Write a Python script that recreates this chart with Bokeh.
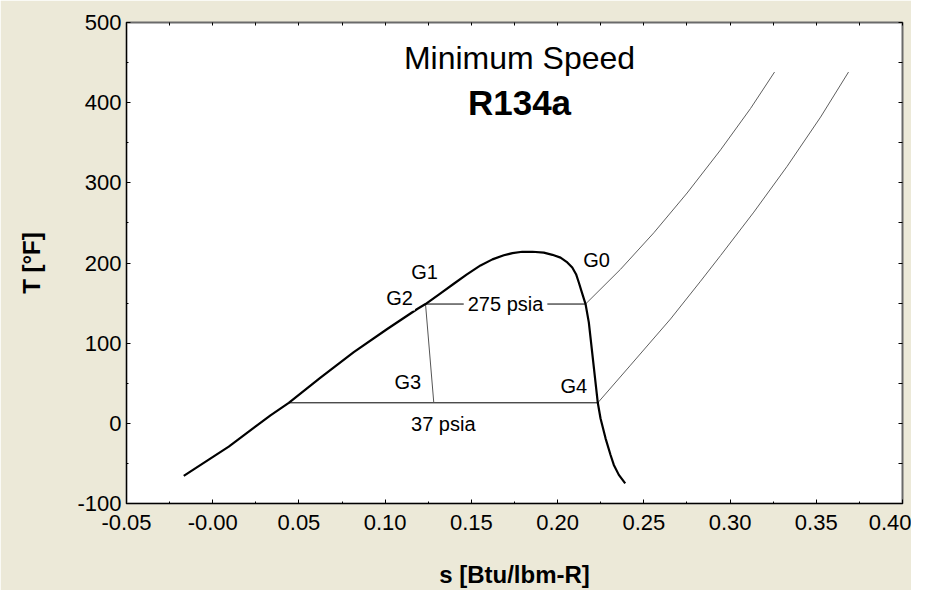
from bokeh.plotting import figure
from bokeh.models import (LinearAxis, SingleIntervalTicker, CustomJSTickFormatter,
                          Label, Range1d)
from bokeh.embed import file_html
from bokeh.resources import INLINE

# ---------------- data ----------------
# saturation dome of R134a, s [Btu/lbm-R], T [F]
s_dome = [-0.0168, 0.0093, 0.0335, 0.0441, 0.0625, 0.0818, 0.1012, 0.1186, 0.1234,
          0.1321, 0.1398, 0.1472, 0.1553, 0.1622, 0.1688, 0.1738, 0.1795, 0.1854,
          0.1920, 0.1970, 0.2017, 0.2052, 0.2085, 0.2107, 0.2123, 0.2142, 0.2162,
          0.2181, 0.2233, 0.2249, 0.2278, 0.2307, 0.2326, 0.2355, 0.2392]
T_dome = [-65.5, -29.0, 10.0, 25.6, 57.0, 88.8, 117.7, 142.6, 148.8,
          162.2, 174.1, 185.4, 197.0, 204.5, 209.6, 212.3, 214.0, 214.0,
          212.9, 210.2, 206.7, 201.5, 194.3, 186.0, 175.7, 162.4, 148.8,
          126.0, 25.6, 6.1, -18.7, -39.5, -51.9, -64.3, -75.0]

# superheated isobars
s_275 = [0.2162, 0.2365, 0.2558, 0.2751, 0.2945, 0.3119, 0.3258]
T_275 = [148.8, 192.2, 237.7, 287.3, 341.1, 392.8, 438.2]
s_37 = [0.2233, 0.2423, 0.2655, 0.2829, 0.2945, 0.3138, 0.3331, 0.3525, 0.3687]
T_37 = [25.6, 72.6, 130.2, 177.3, 209.3, 263.5, 320.6, 382.0, 438.2]

# state points
state_names = ["G0", "G1", "G2", "G3", "G4"]
s_state = [0.2162, 0.1234, 0.1234, 0.1282, 0.2233]
T_state = [148.8, 148.8, 148.8, 25.6, 25.6]

pressure_labels = ["275 psia", "37 psia"]
x_ticks_fmt_zero = "-0.00"

# ---------------- figure ----------------
BEIGE = "#ECE9D8"
FONT = "Liberation Sans"

p = figure(width=911, height=590, output_backend="svg", toolbar_location=None,
           x_range=Range1d(-0.05, 0.40), y_range=Range1d(-100, 500),
           min_border_left=126, min_border_right=9, min_border_top=22,
           min_border_bottom=84, x_axis_label="s [Btu/lbm-R]", y_axis_label="T [°F]")
p.background_fill_color = "white"
p.border_fill_color = BEIGE
p.outline_line_color = "#6A6A6A"
p.outline_line_width = 2
p.xgrid.visible = False
p.ygrid.visible = False

xax = p.xaxis[0]
xax.ticker = SingleIntervalTicker(interval=0.05, num_minor_ticks=2)
xax.formatter = CustomJSTickFormatter(
    args=dict(z=x_ticks_fmt_zero),
    code="if (Math.abs(tick) < 1e-9) { return z; } return tick.toFixed(2);")
yax = p.yaxis[0]
yax.ticker = SingleIntervalTicker(interval=100, num_minor_ticks=2)
yax.formatter = CustomJSTickFormatter(code="return tick.toFixed(0);")

for ax in (xax, yax):
    ax.axis_line_color = "black"
    ax.axis_line_width = 1
    ax.major_tick_in = 4
    ax.major_tick_out = 0
    ax.minor_tick_in = 2
    ax.minor_tick_out = 0
    ax.major_tick_line_color = "black"
    ax.minor_tick_line_color = "black"
    ax.major_label_text_font = FONT
    ax.major_label_text_font_size = "22px"
    ax.major_label_text_color = "black"
    ax.axis_label_text_font = FONT
    ax.axis_label_text_font_style = "bold"
    ax.axis_label_text_font_size = "24px"
    ax.axis_label_text_color = "black"

xax.major_label_standoff = 11
xax.axis_label_standoff = 28
yax.major_label_standoff = 5
yax.axis_label_standoff = 29

blank = CustomJSTickFormatter(code="return '';")
top = LinearAxis(ticker=SingleIntervalTicker(interval=0.025, num_minor_ticks=0),
                 formatter=blank, axis_line_color=None, major_tick_in=3,
                 major_tick_out=0, minor_tick_line_color=None,
                 major_label_text_font_size="0px", major_label_standoff=0,
                 major_tick_line_color="black")
right = LinearAxis(ticker=SingleIntervalTicker(interval=50, num_minor_ticks=0),
                   formatter=blank, axis_line_color=None, major_tick_in=4,
                   major_tick_out=0, minor_tick_line_color=None,
                   major_label_text_font_size="0px", major_label_standoff=0,
                   major_tick_line_color="black")
p.add_layout(top, "above")
p.add_layout(right, "right")

# ---------------- lines ----------------
p.line(s_275, T_275, line_color="#5E5E5E", line_width=1)
p.line(s_37, T_37, line_color="#5E5E5E", line_width=1)
# 275 psia two-phase isobar G2 -> G0
p.line([s_state[2], s_state[0]], [T_state[2], T_state[0]], line_color="black", line_width=1)
# 37 psia two-phase isobar from sat. liquid to G4
p.line([s_dome[3], s_state[4]], [T_dome[3], T_state[4]], line_color="black", line_width=1)
# expansion G2 -> G3
p.line([s_state[2], s_state[3]], [T_state[2], T_state[3]], line_color="#555555", line_width=1)
# dome
p.line(s_dome, T_dome, line_color="black", line_width=2.2, line_join="round")

# ---------------- labels ----------------
label_offsets = {"G0": (11, 44.5), "G1": (-1, 32.5), "G2": (-26, 6.5),
                 "G3": (-26, 21), "G4": (-24, 17)}
for name, s, T in zip(state_names, s_state, T_state):
    dx, dy = label_offsets[name]
    kw = {}
    if name == "G2":
        kw = dict(background_fill_color="white", padding=2)
    p.add_layout(Label(x=s, y=T, x_offset=dx, y_offset=dy, text=name,
                       text_font=FONT, text_font_size="20px", text_color="black",
                       text_align="center", text_baseline="middle", **kw))

p.add_layout(Label(x=(s_state[2] + s_state[0]) / 2, y=T_state[0], text=pressure_labels[0],
                   text_font=FONT, text_font_size="20px", text_color="black",
                   text_align="center", text_baseline="middle",
                   background_fill_color="white", padding=4))
p.add_layout(Label(x=(s_dome[3] + s_state[4]) / 2, y=T_state[4], y_offset=-21.5,
                   text=pressure_labels[1], text_font=FONT, text_font_size="20px",
                   text_color="black", text_align="center", text_baseline="middle"))

p.add_layout(Label(x=0.1779, y=455.8, text="Minimum Speed", text_font=FONT,
                   text_font_size="32px", text_color="black",
                   text_align="center", text_baseline="middle"))
p.add_layout(Label(x=0.1779, y=400.0, text="R134a", text_font=FONT,
                   text_font_size="35px", text_font_style="bold", text_color="black",
                   text_align="center", text_baseline="middle"))

open("out.html", "w").write(file_html(p, INLINE))
